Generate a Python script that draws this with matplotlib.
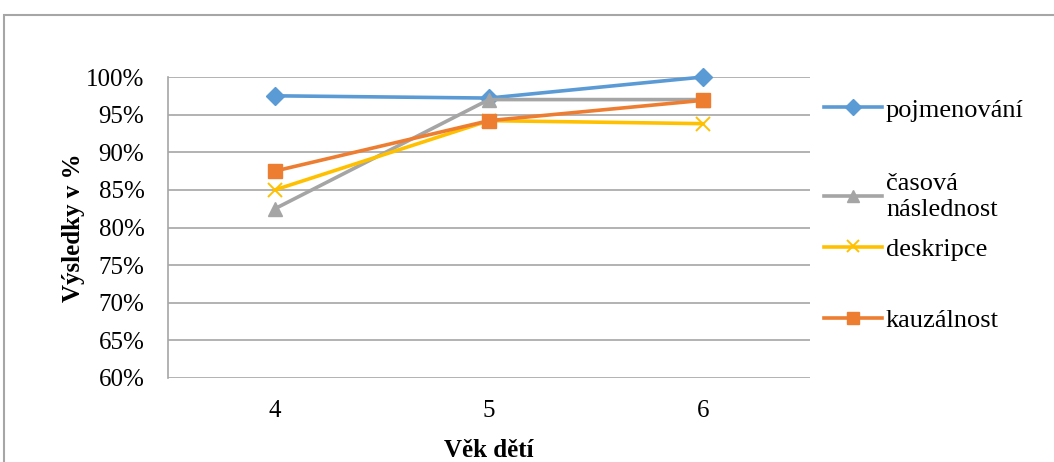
import matplotlib
matplotlib.use("Agg")
import matplotlib.pyplot as plt
from matplotlib.lines import Line2D
from matplotlib.patches import Rectangle
from matplotlib.ticker import PercentFormatter

ages = ["4", "5", "6"]
pojmenovani = [97.5, 97.2, 100.0]
casova = [82.5, 97.0, 97.0]
deskripce = [85.0, 94.2, 93.8]
kauzalnost = [87.5, 94.2, 96.9]
labels = ["pojmenování", "časová\nnáslednost", "deskripce", "kauzálnost"]
yticks = [60, 65, 70, 75, 80, 85, 90, 95, 100]

BLUE, GREY, YELLOW, ORANGE = "#5b9bd5", "#a5a5a5", "#ffc000", "#ed7d31"
GRID = "#a6a6a6"
FS = 18

plt.rcParams["font.family"] = ["Liberation Serif", "DejaVu Serif"]

fig = plt.figure(figsize=(10.54, 4.62), dpi=100)
ax = fig.add_axes([168 / 1054, 1 - 378 / 462, (810 - 168) / 1054, (378 - 77) / 462])

x = range(len(ages))
series = [
    (pojmenovani, BLUE, "D", 9),
    (casova, GREY, "^", 10),
    (deskripce, YELLOW, "x", 10),
    (kauzalnost, ORANGE, "s", 10),
]
handles = []
for vals, col, mk, ms in series:
    mew = 1.4 if mk == "x" else 1
    h, = ax.plot(x, vals, color=col, lw=2.6, marker=mk, ms=ms,
                 mec=col, mfc=col, mew=mew, solid_capstyle="round",
                 clip_on=False, zorder=3)
    handles.append(h)

ax.set_xlim(-0.5, 2.5)
ax.set_ylim(60, 100)
ax.set_xticks(list(x))
ax.set_xticklabels(ages)
ax.set_yticks(yticks)
ax.yaxis.set_major_formatter(PercentFormatter(decimals=0))
ax.tick_params(axis="both", length=0, labelsize=FS)
ax.tick_params(axis="x", pad=16)
ax.tick_params(axis="y", pad=17)
ax.grid(axis="y", color=GRID, lw=1.2, zorder=0)
for side in ("top", "right", "bottom"):
    ax.spines[side].set_visible(False)
ax.spines["left"].set_color(GRID)
ax.spines["left"].set_linewidth(1.2)

ax.set_xlabel("Věk dětí", fontsize=FS, fontweight="bold", labelpad=12)
ax.set_ylabel("Výsledky v %", fontsize=FS, fontweight="bold", labelpad=1)

# one legend entry per position, spacing as in the Excel layout
legend_y = [110, 197, 249, 320]
for h, lab, yp in zip(handles, labels, legend_y):
    proxy = Line2D([], [], color=h.get_color(), lw=2.6, marker=h.get_marker(),
                   ms=h.get_markersize() - 1, mfc=h.get_color(), mec=h.get_color(),
                   mew=h.get_markeredgewidth())
    leg = fig.legend([proxy], [lab], loc="center left",
                     bbox_to_anchor=(824 / 1054, 1 - yp / 462),
                     frameon=False, fontsize=FS + 1, handlelength=2.2,
                     handletextpad=0.15, borderpad=0, borderaxespad=0,
                     labelspacing=0)
    for t in leg.get_texts():
        t.set_linespacing(1.25)

# chart area border
fig.add_artist(Rectangle((4 / 1054, -0.1), 1.2, 1 - 15 / 462 + 0.1,
                         transform=fig.transFigure, fill=False,
                         ec=GRID, lw=1.5))

fig.savefig("out.png", dpi=100)
